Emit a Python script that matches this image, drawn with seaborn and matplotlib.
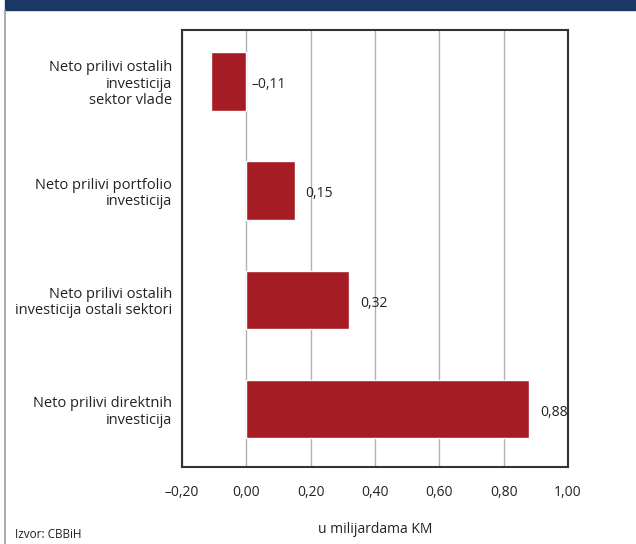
import matplotlib
matplotlib.use("Agg")
import matplotlib.pyplot as plt
import seaborn as sns
import pandas as pd
from matplotlib.patches import Rectangle
from matplotlib.lines import Line2D

categories = [
    "Neto prilivi ostalih\ninvesticija\nsektor vlade",
    "Neto prilivi portfolio\ninvesticija",
    "Neto prilivi ostalih\ninvesticija ostali sektori",
    "Neto prilivi direktnih\ninvesticija",
]
values = [-0.11, 0.15, 0.32, 0.88]
xticks = [-0.2, 0.0, 0.2, 0.4, 0.6, 0.8, 1.0]
xlabel = "u milijardama KM"
source = "Izvor: CBBiH"

sns.set_theme(style="white")
plt.rcParams["font.family"] = ["Open Sans", "DejaVu Sans"]

W, H = 636, 544
fig = plt.figure(figsize=(W / 100, H / 100), dpi=100)
ax = fig.add_axes([182 / W, 1 - 467 / H, (568 - 182) / W, (467 - 30) / H])

df = pd.DataFrame({"cat": categories, "val": values})
sns.barplot(data=df, y="cat", x="val", orient="h", color="#A51C24",
            saturation=1, width=0.535, ax=ax, zorder=3)

ax.set_xlim(-0.2, 1.0)
ax.set_ylim(3.53, -0.47)
ax.set_xticks(xticks)
ax.set_xticklabels([f"{t:.2f}".replace(".", ",").replace("-", "\u2013") for t in xticks],
                   fontsize=10, color="#222222")
ax.tick_params(axis="x", length=0, pad=13)
ax.tick_params(axis="y", length=0, pad=7)
ax.set_yticks(range(len(categories)))
ax.set_yticklabels(categories, fontsize=10.5, color="#222222", ha="right",
                   multialignment="right", linespacing=1.15)
ax.set_ylabel("")
ax.set_xlabel(xlabel, fontsize=10, color="#222222", labelpad=16)
ax.xaxis.grid(True, color="#b0b0b0", linewidth=1, zorder=0)
ax.yaxis.grid(False)
for s in ax.spines.values():
    s.set_visible(True)
    s.set_color("#333333")
    s.set_linewidth(1.5)

for i, v in enumerate(values):
    x = v + 0.033 if v > 0 else 0.017
    ax.text(x, i + 0.03, f"{v:.2f}".replace(".", ",").replace("-", "\u2013"), va="center", ha="left",
            fontsize=10, color="#222222", zorder=4)

# decorative frame
fig.patches.append(Rectangle((5 / W, 1 - 10 / H), 1 - 5 / W, 10 / H, transform=fig.transFigure,
                             color="#1B3764", zorder=0))
fig.lines.append(Line2D([5 / W, 5 / W], [0, 1 - 10 / H], transform=fig.transFigure,
                        color="#999999", linewidth=1.2))
fig.text(15 / W, 1 - 535 / H, source, fontsize=8.5, color="#222222", va="center", ha="left")

fig.savefig("out.png", dpi=100)
